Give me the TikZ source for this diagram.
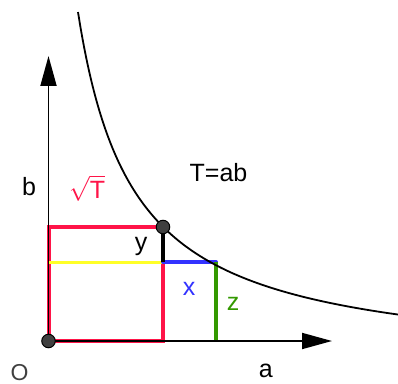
\documentclass[tikz,border=0pt]{standalone}
\usepackage{fontspec}
\setmainfont{Liberation Sans}
\usetikzlibrary{arrows.meta}
\definecolor{sqred}{RGB}{255,20,72}
\definecolor{lineblue}{RGB}{50,50,255}
\definecolor{linegreen}{RGB}{51,153,0}
\definecolor{lineyellow}{RGB}{255,255,40}
\definecolor{ptgray}{RGB}{64,64,64}
\tikzset{
  lbl/.style={inner sep=0pt, font=\fontsize{25}{30}\selectfont},
  pt/.style={circle, draw=black, fill=ptgray, line width=1pt, minimum size=13.5pt, inner sep=0pt},
  axis/.style={line width=1.8pt, -{Triangle[length=30pt,width=16pt]}},
  seg/.style={line width=4pt},
}
\begin{document}
\begin{tikzpicture}[x=1pt,y=1pt]
\useasboundingbox (0,0) rectangle (398,383);
% key coordinates
\coordinate (Oc) at (48.5,42);
\coordinate (SqTL) at (48.5,156);
\coordinate (SqBR) at (163,42);
\coordinate (Q) at (163,121);
\coordinate (Y0) at (48.5,121);
\coordinate (R) at (216,121);
\coordinate (S) at (216,42);
\coordinate (Xe) at (332,42);
\coordinate (Ye) at (48.5,327);
\coordinate (Pc) at (163,156);
% red square
\draw[seg, sqred] (Oc) rectangle (Pc);
% yellow line
\draw[line width=3pt, lineyellow] (Y0) -- (Q);
% blue, green, black segments
\draw[seg, lineblue, line cap=round] (Q) -- (R);
\draw[seg, linegreen] (R) -- (S);
\draw[seg, black] (Pc) -- (Q);
% axes
\draw[axis] (Oc) -- (Xe);
\draw[axis] (Oc) -- (Ye);
% hyperbola
\draw[line width=1.8pt] plot[domain=29.5:349.5, samples=120, smooth] ({48.5+\x},{16+197/(\x+26)*100});
% points
\node[pt] (O) at (Oc) {};
\node[pt] (P) at (Pc) {};
% labels
\node[lbl, anchor=base] (lb) at (29,188) {b};
\node[lbl, anchor=base west, text=sqred] (lsq) at (69,185) {$\sqrt{\hbox{T}}$};
\node[lbl, anchor=base west] (lT) at (189.5,201) {T=ab};
\node[lbl, anchor=base] (ly) at (141,133) {y};
\node[lbl, anchor=base, text=lineblue] (lx) at (189,88) {x};
\node[lbl, anchor=base, text=linegreen] (lz) at (233,72.3) {z};
\node[lbl, anchor=base] (la) at (265.7,6) {a};
\node[lbl, anchor=base, text=black!75, font=\fontsize{23}{27}\selectfont] (lO) at (19.5,3) {O};
\end{tikzpicture}
\end{document}
